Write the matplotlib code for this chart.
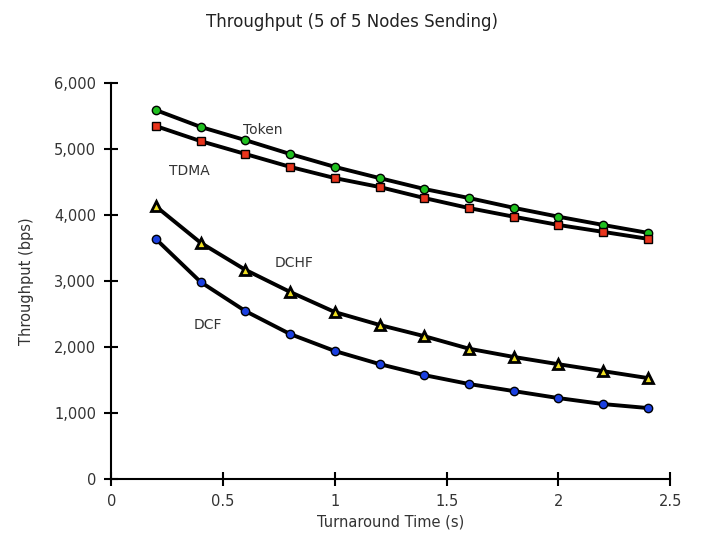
import matplotlib.pyplot as plt
from matplotlib.ticker import FuncFormatter

turnaround = [0.2, 0.4, 0.6, 0.8, 1.0, 1.2, 1.4, 1.6, 1.8, 2.0, 2.2, 2.4]
token = [5590, 5335, 5135, 4925, 4730, 4560, 4395, 4258, 4110, 3975, 3850, 3730]
tdma = [5348, 5120, 4925, 4730, 4560, 4425, 4258, 4106, 3975, 3850, 3745, 3640]
dchf = [4130, 3580, 3170, 2835, 2530, 2335, 2165, 1975, 1850, 1740, 1635, 1530]
dcf = [3636, 2985, 2545, 2197, 1940, 1742, 1575, 1440, 1333, 1227, 1136, 1076]

fig = plt.figure(figsize=(7.04, 5.5), dpi=100)
ax = fig.add_axes([0.158, 0.129, 0.794, 0.72])

series = [
    (token, "o", "#1fbf1f", 6, 1.0),
    (tdma, "s", "#e8341c", 5.5, 1.0),
    (dchf, "^", "#f0e020", 7, 2.0),
    (dcf, "o", "#1a3fe0", 6, 1.0),
]
for vals, mk, col, ms, mew in series:
    ax.plot(turnaround, vals, color="black", lw=2.8, solid_joinstyle="round",
            solid_capstyle="round", zorder=2)
    ax.plot(turnaround, vals, ls="none", marker=mk, ms=ms, mfc=col,
            mec="black", mew=mew, zorder=3)

ax.text(0.59, 5290, "Token", fontsize=10, color="#333333", va="center")
ax.text(0.26, 4670, "TDMA", fontsize=10, color="#333333", va="center")
ax.text(0.73, 3270, "DCHF", fontsize=10, color="#333333", va="center")
ax.text(0.37, 2330, "DCF", fontsize=10, color="#333333", va="center")

ax.set_xlim(0, 2.5)
ax.set_ylim(0, 6000)
ax.set_xticks([0, 0.5, 1, 1.5, 2, 2.5])
ax.set_xticklabels(["0", "0.5", "1", "1.5", "2", "2.5"])
ax.set_yticks(range(0, 6001, 1000))
ax.yaxis.set_major_formatter(FuncFormatter(lambda v, p: f"{int(v):,}"))

for s in ["top", "right"]:
    ax.spines[s].set_visible(False)
for s in ["left", "bottom"]:
    ax.spines[s].set_linewidth(1.5)
ax.tick_params(direction="inout", length=10, width=1.5, labelsize=10.5,
               pad=6, colors="black", labelcolor="#333333")

ax.set_xlabel("Turnaround Time (s)", fontsize=10.5, color="#333333", labelpad=4)
ax.set_ylabel("Throughput (bps)", fontsize=10.5, color="#333333", labelpad=14)
fig.text(0.5, 0.96, "Throughput (5 of 5 Nodes Sending)", ha="center",
         va="center", fontsize=12, color="#222222")

fig.savefig("out.png", dpi=100)
